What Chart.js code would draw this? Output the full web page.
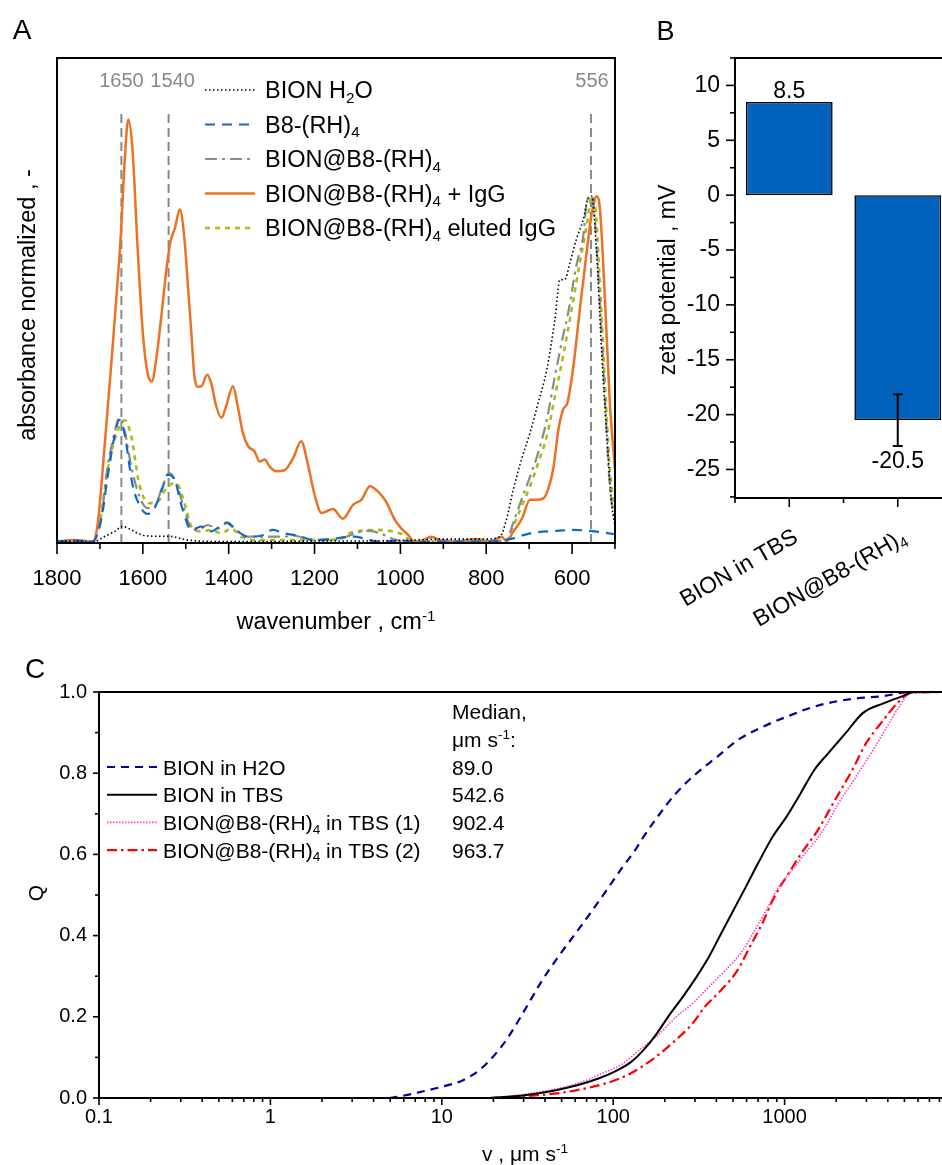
<!DOCTYPE html>
<html lang="en">
<head>
<meta charset="UTF-8">
<title>BION characterisation</title>
<script src="https://cdn.jsdelivr.net/npm/chart.js@4.4.0/dist/chart.umd.min.js"></script>
<style>
  html, body { margin: 0; padding: 0; background: #fff; overflow: hidden; width: 942px; height: 1165px; }
  canvas { position: absolute; }
  #chartA { left: 0; top: 0; }
  #chartB { left: 640px; top: 0; }
  #chartC { left: 0; top: 650px; }
</style>
</head>
<body>
<canvas id="chartA" width="640" height="650"></canvas>
<canvas id="chartB" width="320" height="650"></canvas>
<canvas id="chartC" width="970" height="515"></canvas>

<script>
// ---------- Panel A: FTIR spectra (absorbance normalized) ----------
const h2oWn  = [1800, 1760, 1717, 1690, 1667, 1647, 1627, 1604, 1573, 1540, 1495, 1417, 1300, 1200, 1100, 1000, 900, 800, 768, 753, 737, 718, 698, 679, 659, 640, 628, 617, 605, 590, 574, 562, 554, 543, 531, 519, 508, 500];
const h2oAbs = [0.003, 0.004, 0.002, 0.013, 0.023, 0.034, 0.027, 0.017, 0.014, 0.014, 0.006, 0.003, 0.003, 0.004, 0.004, 0.005, 0.008, 0.008, 0.013, 0.048, 0.11, 0.172, 0.227, 0.289, 0.357, 0.461, 0.543, 0.543, 0.578, 0.626, 0.667, 0.712, 0.715, 0.6, 0.392, 0.22, 0.082, 0.034];

const b8Wn  = [1800, 1760, 1717, 1697, 1682, 1666, 1655, 1643, 1624, 1604, 1589, 1573, 1557, 1542, 1526, 1507, 1487, 1464, 1441, 1406, 1383, 1355, 1324, 1297, 1270, 1238, 1200, 1165, 1110, 1048, 1000, 950, 900, 850, 800, 745, 698, 636, 597, 558, 530, 500];
const b8Abs = [0.003, 0.005, 0.003, 0.048, 0.137, 0.22, 0.254, 0.227, 0.12, 0.072, 0.06, 0.072, 0.106, 0.141, 0.13, 0.068, 0.027, 0.034, 0.024, 0.042, 0.027, 0.013, 0.015, 0.027, 0.02, 0.015, 0.006, 0.008, 0.013, 0.003, 0.005, 0.002, 0.003, 0.003, 0.003, 0.008, 0.02, 0.025, 0.027, 0.025, 0.022, 0.018];

const bionWn  = [1800, 1760, 1717, 1697, 1682, 1666, 1655, 1643, 1627, 1608, 1589, 1573, 1554, 1538, 1522, 1503, 1487, 1472, 1449, 1425, 1402, 1383, 1359, 1324, 1277, 1246, 1215, 1160, 1126, 1095, 1071, 1048, 1009, 970, 900, 800, 753, 737, 718, 698, 679, 659, 640, 621, 609, 590, 574, 565, 554, 547, 535, 523, 512, 500];
const bionAbs = [0.003, 0.005, 0.003, 0.054, 0.158, 0.227, 0.258, 0.233, 0.158, 0.096, 0.072, 0.075, 0.117, 0.144, 0.123, 0.068, 0.03, 0.027, 0.037, 0.03, 0.042, 0.027, 0.013, 0.013, 0.013, 0.015, 0.008, 0.006, 0.013, 0.023, 0.025, 0.02, 0.006, 0.003, 0.004, 0.004, 0.006, 0.042, 0.089, 0.137, 0.186, 0.254, 0.344, 0.427, 0.475, 0.572, 0.633, 0.706, 0.715, 0.667, 0.495, 0.289, 0.117, 0.048];

const iggWn  = [1800, 1760, 1717, 1705, 1690, 1674, 1659, 1651, 1643, 1634, 1624, 1612, 1600, 1589, 1579, 1569, 1557, 1546, 1536, 1525, 1514, 1503, 1495, 1487, 1480, 1473, 1464, 1450, 1441, 1429, 1417, 1406, 1390, 1379, 1367, 1355, 1340, 1328, 1316, 1305, 1289, 1270, 1250, 1231, 1215, 1200, 1184, 1173, 1157, 1134, 1110, 1091, 1071, 1052, 1033, 1013, 998, 982, 967, 951, 928, 908, 869, 823, 792, 764, 753, 737, 717, 698, 683, 667, 656, 644, 632, 621, 611, 597, 582, 566, 554, 543, 535, 523, 512, 500];
const iggAbs = [0.003, 0.006, 0.003, 0.041, 0.19, 0.364, 0.537, 0.64, 0.778, 0.873, 0.81, 0.605, 0.433, 0.35, 0.333, 0.378, 0.467, 0.557, 0.62, 0.65, 0.688, 0.626, 0.53, 0.433, 0.344, 0.322, 0.323, 0.347, 0.33, 0.282, 0.258, 0.282, 0.323, 0.282, 0.227, 0.2, 0.189, 0.168, 0.172, 0.158, 0.148, 0.15, 0.175, 0.21, 0.16, 0.1, 0.062, 0.065, 0.07, 0.05, 0.079, 0.089, 0.117, 0.106, 0.085, 0.048, 0.03, 0.017, 0.003, 0.004, 0.013, 0.006, 0.003, 0.008, 0.003, 0.013, 0.004, 0.023, 0.05, 0.089, 0.089, 0.092, 0.11, 0.152, 0.233, 0.275, 0.289, 0.364, 0.481, 0.6, 0.681, 0.715, 0.688, 0.495, 0.289, 0.151];

const elutedWn  = [1800, 1760, 1717, 1697, 1682, 1663, 1642, 1627, 1608, 1585, 1566, 1542, 1522, 1503, 1487, 1464, 1441, 1417, 1394, 1371, 1340, 1262, 1200, 1142, 1119, 1095, 1056, 1025, 994, 971, 900, 800, 753, 737, 718, 698, 679, 659, 640, 621, 601, 582, 566, 554, 547, 535, 523, 512, 500];
const elutedAbs = [0.003, 0.005, 0.003, 0.061, 0.151, 0.22, 0.253, 0.22, 0.12, 0.082, 0.085, 0.117, 0.123, 0.082, 0.034, 0.024, 0.027, 0.02, 0.03, 0.013, 0.006, 0.006, 0.006, 0.008, 0.02, 0.025, 0.027, 0.025, 0.017, 0.003, 0.004, 0.004, 0.006, 0.034, 0.075, 0.117, 0.165, 0.22, 0.302, 0.385, 0.481, 0.578, 0.654, 0.715, 0.702, 0.53, 0.323, 0.151, 0.068];

const markerWn = [1650, 1540, 556];
const markerTop = 0.895;
const waveTicks = [1800, 1600, 1400, 1200, 1000, 800, 600];
const waveMinor = [1700, 1500, 1300, 1100, 900, 700, 500];

// ---------- Panel B: zeta potential ----------
const zetaLabels = ['BION in TBS', 'BION@B8-(RH)4'];
const zetaValues = [8.5, -20.5];
const zetaErrors = [0, 2.35];
const zetaTicks = [-25, -20, -15, -10, -5, 0, 5, 10];
const zetaMinor = [-27.5, -22.5, -17.5, -12.5, -7.5, -2.5, 2.5, 7.5, 12.5];

// ---------- Panel C: cumulative speed distributions ----------
const h2oSpeed = [4.95, 6.2, 7.7, 10.1, 13.3, 16.6, 20.7, 24.5, 30.5, 37.9, 47.3, 59, 73.5, 91.6, 114, 134.6, 146, 176, 232, 307, 406, 535, 743, 1027, 1490, 2372, 3773, 5470, 10000];
const h2oQ     = [0, 0.007, 0.016, 0.028, 0.044, 0.069, 0.11, 0.151, 0.217, 0.285, 0.345, 0.4, 0.455, 0.512, 0.57, 0.611, 0.635, 0.685, 0.75, 0.8, 0.841, 0.882, 0.914, 0.939, 0.964, 0.982, 0.99, 1.0, 1.0];
const tbsSpeed = [18.6, 30.5, 44.8, 62.3, 82, 102, 127.4, 150, 177, 209, 253.5, 307, 362, 427, 504, 594, 700, 853, 1027, 1239, 1490, 1795, 2264, 2857, 3773, 4753, 5728, 10000];
const tbsQ     = [0, 0.007, 0.018, 0.032, 0.048, 0.065, 0.089, 0.118, 0.155, 0.2, 0.248, 0.299, 0.348, 0.406, 0.463, 0.52, 0.578, 0.644, 0.693, 0.75, 0.808, 0.849, 0.898, 0.948, 0.972, 0.988, 1.0, 1.0];
const tbs1Speed = [19.6, 30.5, 44.8, 62.3, 86.7, 114, 142, 187, 233, 291, 362, 452, 563, 663, 782, 923, 1150, 1300, 1637, 2065, 2603, 3281, 3953, 4540, 5470, 10000];
const tbs1Q     = [0, 0.009, 0.021, 0.036, 0.061, 0.085, 0.118, 0.159, 0.2, 0.233, 0.274, 0.315, 0.36, 0.41, 0.463, 0.52, 0.57, 0.6, 0.652, 0.726, 0.791, 0.857, 0.914, 0.956, 0.997, 1.0];
const tbs2Speed = [18.6, 32.2, 50, 69.6, 96.7, 127, 168, 221, 291, 343, 427, 532, 628, 741, 873, 1088, 1239, 1563, 1968, 2483, 2991, 3773, 4540, 5470, 10000];
const tbs2Q     = [0, 0.005, 0.013, 0.024, 0.04, 0.061, 0.094, 0.135, 0.184, 0.225, 0.266, 0.315, 0.373, 0.43, 0.496, 0.562, 0.6, 0.66, 0.734, 0.808, 0.874, 0.931, 0.972, 0.998, 1.0];
const medianValues = ['89.0', '542.6', '902.4', '963.7'];
const speedTicks = [0.1, 1, 10, 100, 1000];
const qTicks = [0, 0.2, 0.4, 0.6, 0.8, 1.0];
const qMinor = [0.1, 0.3, 0.5, 0.7, 0.9];

// ---------- helpers ----------
const FONT = '"Liberation Sans", Arial, Helvetica, sans-serif';
Chart.defaults.font.family = FONT;
Chart.defaults.color = '#000';

const toXY = (xs, ys) => xs.map((x, i) => ({ x: x, y: ys[i] }));

// text with sub/superscript parts: 'plain' or ['4', 'sub'] / ['-1', 'sup']
function rich(ctx, x, y, parts, size, align, color) {
  ctx.save();
  const small = size * 0.65;
  const items = parts.map(p => Array.isArray(p) ? { t: p[0], k: p[1] } : { t: p, k: '' });
  let w = 0;
  items.forEach(it => {
    ctx.font = (it.k ? small : size) + 'px ' + FONT;
    it.w = ctx.measureText(it.t).width;
    w += it.w;
  });
  let cx = align === 'center' ? x - w / 2 : align === 'right' ? x - w : x;
  const base = y + size * 0.36;
  ctx.fillStyle = color || '#000';
  ctx.textAlign = 'left';
  ctx.textBaseline = 'alphabetic';
  items.forEach(it => {
    ctx.font = (it.k ? small : size) + 'px ' + FONT;
    const dy = it.k === 'sub' ? size * 0.18 : it.k === 'sup' ? -size * 0.38 : 0;
    ctx.fillText(it.t, cx, base + dy);
    cx += it.w;
  });
  ctx.restore();
}

function richRot(ctx, x, y, angle, parts, size, align, color) {
  ctx.save();
  ctx.translate(x, y);
  ctx.rotate(angle);
  rich(ctx, 0, 0, parts, size, align, color);
  ctx.restore();
}

function tickMarks(ctx, scale, values, len, side) {
  ctx.save();
  ctx.strokeStyle = '#000';
  ctx.lineWidth = 1.6;
  values.forEach(v => {
    const p = scale.getPixelForValue(v);
    ctx.beginPath();
    if (side === 'bottom') { ctx.moveTo(p, scale.top); ctx.lineTo(p, scale.top + len); }
    else { ctx.moveTo(scale.right, p); ctx.lineTo(scale.right - len, p); }
    ctx.stroke();
  });
  ctx.restore();
}

function frame(ctx, a) {
  ctx.save();
  ctx.strokeStyle = '#000';
  ctx.lineWidth = 2;
  ctx.strokeRect(a.left, a.top, a.right - a.left, a.bottom - a.top);
  ctx.restore();
}

function legendLine(ctx, x1, x2, y, s) {
  ctx.save();
  ctx.strokeStyle = s.color;
  ctx.lineWidth = s.width;
  ctx.setLineDash(s.dash);
  ctx.beginPath();
  ctx.moveTo(x1, y);
  ctx.lineTo(x2, y);
  ctx.stroke();
  ctx.restore();
}

const hiddenGrid = { display: false, drawTicks: false };
const noBorder = { display: false };

// ---------- Panel A ----------
const spectra = [
  { wn: h2oWn, abs: h2oAbs, color: '#000000', dash: [1.5, 2.5], width: 1.6, parts: ['BION H', ['2', 'sub'], 'O'] },
  { wn: b8Wn, abs: b8Abs, color: '#1468C4', dash: [10, 7], width: 2.2, parts: ['B8-(RH)', ['4', 'sub']] },
  { wn: bionWn, abs: bionAbs, color: '#8A8A8A', dash: [12, 5, 3, 5], width: 2.2, parts: ['BION@B8-(RH)', ['4', 'sub']] },
  { wn: iggWn, abs: iggAbs, color: '#EC7124', dash: [], width: 2.5, parts: ['BION@B8-(RH)', ['4', 'sub'], ' + IgG'] },
  { wn: elutedWn, abs: elutedAbs, color: '#A9BE12', dash: [5, 5], width: 2.6, parts: ['BION@B8-(RH)', ['4', 'sub'], ' eluted IgG'] }
];

const dsA = spectra.map(s => ({
  data: toXY(s.wn, s.abs),
  borderColor: s.color,
  borderDash: s.dash,
  borderWidth: s.width,
  pointRadius: 0,
  fill: false,
  cubicInterpolationMode: 'monotone'
}));
markerWn.forEach(w => dsA.push({
  data: [{ x: w, y: 0 }, { x: w, y: markerTop }],
  borderColor: '#888888',
  borderDash: [9, 5],
  borderWidth: 2,
  pointRadius: 0,
  fill: false
}));

// small sideways nudge so the 1650 / 1540 labels do not touch
const markerNudge = [0, 4, 1];

const panelA = {
  id: 'panelA',
  afterDraw(chart) {
    const { ctx, chartArea: a, scales: { x, y } } = chart;
    frame(ctx, a);
    tickMarks(ctx, x, waveTicks, 11, 'bottom');
    tickMarks(ctx, x, waveMinor, 6, 'bottom');
    markerWn.forEach((w, i) => rich(ctx, x.getPixelForValue(w) + markerNudge[i], y.getPixelForValue(markerTop) - 29, [String(w)], 20, 'center', '#888888'));
    spectra.forEach((s, i) => {
      const ly = 90 + i * 34.5;
      legendLine(ctx, 205, 255, ly, s);
      rich(ctx, 265, ly, s.parts, 23.5, 'left');
    });
    rich(ctx, 22, 29, ['A'], 28, 'center');
    richRot(ctx, 27, 305, -Math.PI / 2, ['absorbance normalized , -'], 23.5, 'center');
    rich(ctx, 336, 621, ['wavenumber , cm', ['-1', 'sup']], 23.5, 'center');
  }
};

new Chart(document.getElementById('chartA'), {
  type: 'line',
  data: { datasets: dsA },
  options: {
    responsive: false, animation: false, devicePixelRatio: 1,
    layout: { padding: { left: 0, top: 58, right: 25, bottom: 0 } },
    plugins: { legend: { display: false }, tooltip: { enabled: false } },
    scales: {
      x: {
        type: 'linear', reverse: true, min: 500, max: 1800,
        grid: hiddenGrid, border: noBorder,
        afterBuildTicks: s => { s.ticks = waveTicks.map(v => ({ value: v })); },
        afterFit: s => { s.height = 107; },
        ticks: { autoSkip: false, maxRotation: 0, padding: 23, font: { size: 22 }, callback: v => String(v) }
      },
      y: {
        type: 'linear', min: 0, max: 1,
        grid: hiddenGrid, border: noBorder,
        ticks: { display: false },
        afterFit: s => { s.width = 57; }
      }
    }
  },
  plugins: [panelA]
});

// ---------- Panel B ----------
const zetaParts = [['BION in TBS'], ['BION@B8-(RH)', ['4', 'sub']]];

const panelB = {
  id: 'panelB',
  afterDraw(chart) {
    const { ctx, chartArea: a, scales: { x, y } } = chart;
    frame(ctx, a);
    tickMarks(ctx, y, zetaTicks, 9, 'left');
    tickMarks(ctx, y, zetaMinor, 5, 'left');
    tickMarks(ctx, x, [0, 1], 9, 'bottom');
    tickMarks(ctx, x, [-0.5, 0.5], 5, 'bottom');
    const meta = chart.getDatasetMeta(0);
    zetaValues.forEach((v, i) => {
      const bx = meta.data[i].x;
      const e = zetaErrors[i];
      if (e > 0) {
        const y1 = y.getPixelForValue(v + e), y2 = y.getPixelForValue(v - e);
        ctx.save();
        ctx.strokeStyle = '#000';
        ctx.lineWidth = 2;
        ctx.beginPath();
        ctx.moveTo(bx, y1); ctx.lineTo(bx, y2);
        ctx.moveTo(bx - 5, y1); ctx.lineTo(bx + 5, y1);
        ctx.moveTo(bx - 5, y2); ctx.lineTo(bx + 5, y2);
        ctx.stroke();
        ctx.restore();
      }
      const ly = v >= 0 ? y.getPixelForValue(v + e) - 12 : y.getPixelForValue(v - e) + 14;
      rich(ctx, bx, ly, [String(v)], 23, 'center');
      richRot(ctx, x.getPixelForValue(i) + 6, a.bottom + 36, -Math.PI / 6, zetaParts[i], 23, 'right');
    });
    rich(ctx, 25.5, 30.5, ['B'], 27, 'center');
    richRot(ctx, 27, 280, -Math.PI / 2, ['zeta potential , mV'], 23, 'center');
  }
};

new Chart(document.getElementById('chartB'), {
  type: 'bar',
  data: {
    labels: zetaLabels,
    datasets: [{
      data: zetaValues,
      backgroundColor: '#0062BC',
      borderColor: '#000',
      borderWidth: 1.6,
      borderSkipped: false,
      barPercentage: 0.8,
      categoryPercentage: 1.0
    }]
  },
  options: {
    responsive: false, animation: false, devicePixelRatio: 1,
    layout: { padding: { left: 0, top: 58, right: 8, bottom: 0 } },
    plugins: { legend: { display: false }, tooltip: { enabled: false } },
    scales: {
      x: {
        type: 'category', offset: true,
        grid: { display: false, drawTicks: false, offset: true }, border: noBorder,
        ticks: { display: false },
        afterFit: s => { s.height = 152; }
      },
      y: {
        type: 'linear', min: -27.6, max: 12.5,
        grid: hiddenGrid, border: noBorder,
        afterBuildTicks: s => { s.ticks = zetaTicks.map(v => ({ value: v })); },
        afterFit: s => { s.width = 95; },
        ticks: { autoSkip: false, padding: 15, font: { size: 23 }, callback: v => String(v) }
      }
    }
  },
  plugins: [panelB]
});

// ---------- Panel C ----------
const speedSeries = [
  { v: h2oSpeed, q: h2oQ, color: '#0000A0', dash: [8, 6], width: 2.2, parts: ['BION in H2O'] },
  { v: tbsSpeed, q: tbsQ, color: '#000000', dash: [], width: 2, parts: ['BION in TBS'] },
  { v: tbs1Speed, q: tbs1Q, color: '#FF3CC8', dash: [1.5, 1.5], width: 1.6, parts: ['BION@B8-(RH)', ['4', 'sub'], ' in TBS (1)'] },
  { v: tbs2Speed, q: tbs2Q, color: '#FF0000', dash: [10, 4, 2.5, 4], width: 2.2, parts: ['BION@B8-(RH)', ['4', 'sub'], ' in TBS (2)'] }
];

const speedMinor = [];
speedTicks.forEach(d => { for (let m = 2; m <= 9; m++) speedMinor.push(d * m); });

const panelC = {
  id: 'panelC',
  afterDraw(chart) {
    const { ctx, chartArea: a, scales: { x, y } } = chart;
    frame(ctx, a);
    tickMarks(ctx, x, speedTicks, 7, 'bottom');
    tickMarks(ctx, x, speedMinor, 4, 'bottom');
    tickMarks(ctx, y, qTicks, 6, 'left');
    tickMarks(ctx, y, qMinor, 4, 'left');
    rich(ctx, 452, 61, ['Median,'], 21, 'left');
    rich(ctx, 452, 89, ['\u03bcm s', ['-1', 'sup'], ':'], 21, 'left');
    speedSeries.forEach((s, i) => {
      const ly = 117 + i * 27.7;
      legendLine(ctx, 107, 157, ly, s);
      rich(ctx, 163, ly, s.parts, 21, 'left');
      rich(ctx, 452, ly, [medianValues[i]], 21, 'left');
    });
    rich(ctx, 35, 18, ['C'], 28, 'center');
    richRot(ctx, 35, 243, -Math.PI / 2, ['Q'], 21, 'center');
    rich(ctx, 525, 503, ['v , \u03bcm s', ['-1', 'sup']], 21, 'center');
  }
};

new Chart(document.getElementById('chartC'), {
  type: 'line',
  data: {
    datasets: speedSeries.map(s => ({
      data: toXY(s.v, s.q),
      borderColor: s.color,
      borderDash: s.dash,
      borderWidth: s.width,
      pointRadius: 0,
      fill: false,
      cubicInterpolationMode: 'monotone'
    }))
  },
  options: {
    responsive: false, animation: false, devicePixelRatio: 1,
    layout: { padding: { left: 0, top: 42, right: 14, bottom: 0 } },
    plugins: { legend: { display: false }, tooltip: { enabled: false } },
    scales: {
      x: {
        type: 'logarithmic', min: 0.1, max: 10000,
        grid: hiddenGrid, border: noBorder,
        afterBuildTicks: s => { s.ticks = speedTicks.map(v => ({ value: v })); },
        afterFit: s => { s.height = 67; },
        ticks: { autoSkip: false, maxRotation: 0, padding: 7, font: { size: 20 }, callback: v => String(v) }
      },
      y: {
        type: 'linear', min: 0, max: 1,
        grid: hiddenGrid, border: noBorder,
        afterBuildTicks: s => { s.ticks = qTicks.map(v => ({ value: v })); },
        afterFit: s => { s.width = 99; },
        ticks: { autoSkip: false, padding: 12, font: { size: 20 }, callback: v => Number(v).toFixed(1) }
      }
    }
  },
  plugins: [panelC]
});
</script>
</body>
</html>
